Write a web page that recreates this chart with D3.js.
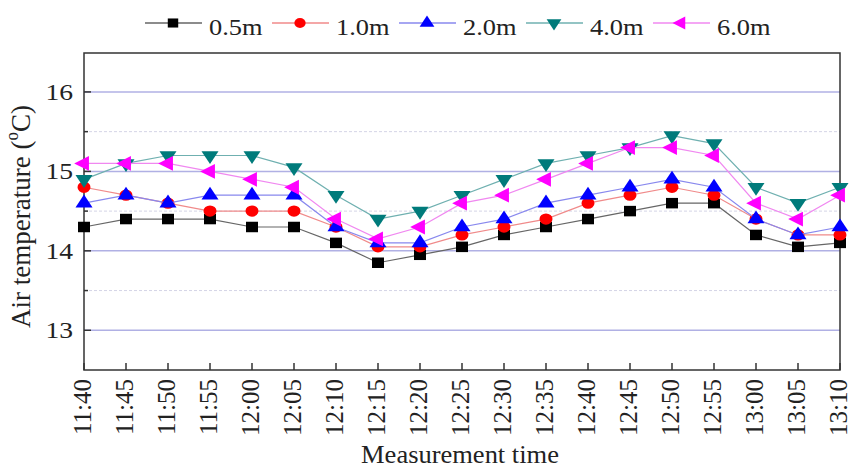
<!DOCTYPE html>
<html>
<head>
<meta charset="utf-8">
<script src="https://cdn.jsdelivr.net/npm/d3@7"></script>
<style>
	body { margin: 0; background: #fff; }
	text { font-family: "Liberation Serif", "Times New Roman", serif; fill: #222; }
</style>
</head>
<body>
<svg id="chart" width="852" height="470"></svg>
<script>
const times = ["11:40", "11:45", "11:50", "11:55", "12:00", "12:05", "12:10", "12:15", "12:20", "12:25",
	"12:30", "12:35", "12:40", "12:45", "12:50", "12:55", "13:00", "13:05", "13:10"];
const heights = ["0.5m", "1.0m", "2.0m", "4.0m", "6.0m"];
const t05 = [14.3, 14.4, 14.4, 14.4, 14.3, 14.3, 14.1, 13.85, 13.95, 14.05, 14.2, 14.3, 14.4, 14.5, 14.6, 14.6, 14.2, 14.05, 14.1];
const t10 = [14.8, 14.7, 14.6, 14.5, 14.5, 14.5, 14.3, 14.05, 14.05, 14.2, 14.3, 14.4, 14.6, 14.7, 14.8, 14.7, 14.4, 14.2, 14.2];
const t20 = [14.6, 14.7, 14.6, 14.7, 14.7, 14.7, 14.3, 14.1, 14.1, 14.3, 14.4, 14.6, 14.7, 14.8, 14.9, 14.8, 14.4, 14.2, 14.3];
const t40 = [14.9, 15.1, 15.2, 15.2, 15.2, 15.05, 14.7, 14.4, 14.5, 14.7, 14.9, 15.1, 15.2, 15.3, 15.45, 15.35, 14.8, 14.6, 14.8];
const t60 = [15.1, 15.1, 15.1, 15.0, 14.9, 14.8, 14.4, 14.15, 14.3, 14.6, 14.7, 14.9, 15.1, 15.3, 15.3, 15.2, 14.6, 14.4, 14.7];
const majorTicks = [13, 14, 15, 16];
const minorTicks = [13.5, 14.5, 15.5];

const series = [
	{ name: heights[0], values: t05, color: "#000000", line: "#666666", symbol: "square" },
	{ name: heights[1], values: t10, color: "#ff0000", line: "#f08a8a", symbol: "circle" },
	{ name: heights[2], values: t20, color: "#0000ff", line: "#8888ee", symbol: "up" },
	{ name: heights[3], values: t40, color: "#007b7b", line: "#6fb0b0", symbol: "down" },
	{ name: heights[4], values: t60, color: "#ff00ff", line: "#f088f0", symbol: "left" }
];

const SX = 1.15; // picture is stretched sideways a bit
const margin = { top: 53, right: 12, bottom: 100, left: 84 };
const width = 852 - margin.left - margin.right;
const height = 470 - margin.top - margin.bottom;

const svg = d3.select("#chart");
const g = svg.append("g").attr("transform", `translate(${margin.left},${margin.top})`);

const x = d3.scalePoint().domain(times).range([0, width]);
const y = d3.scaleLinear().domain([12.5, 16.49]).range([height, 0]);

// grid
g.selectAll(".minor")
	.data(minorTicks)
	.join("line")
	.attr("x1", 0)
	.attr("x2", width)
	.attr("y1", (d) => y(d))
	.attr("y2", (d) => y(d))
	.attr("stroke", "#d4d4e6")
	.attr("stroke-dasharray", "3,2");

g.selectAll(".major")
	.data(majorTicks)
	.join("line")
	.attr("x1", 0)
	.attr("x2", width)
	.attr("y1", (d) => y(d))
	.attr("y2", (d) => y(d))
	.attr("stroke", "#b0b0e4")
	.attr("stroke-width", 1.5);

// ticks inside the frame
g.selectAll(".ytick")
	.data(majorTicks.concat(minorTicks))
	.join("line")
	.attr("x1", 0)
	.attr("x2", (d) => (majorTicks.includes(d) ? 7 : 4))
	.attr("y1", (d) => y(d))
	.attr("y2", (d) => y(d))
	.attr("stroke", "#333")
	.attr("stroke-width", 1.5);

g.selectAll(".xtick")
	.data(times)
	.join("line")
	.attr("x1", (d) => x(d))
	.attr("x2", (d) => x(d))
	.attr("y1", height)
	.attr("y2", height - 7)
	.attr("stroke", "#333")
	.attr("stroke-width", 1.5);

g.append("rect")
	.attr("width", width)
	.attr("height", height)
	.attr("fill", "none")
	.attr("stroke", "#333")
	.attr("stroke-width", 1.5);

// tick labels
g.selectAll(".ylab")
	.data(majorTicks)
	.join("text")
	.attr("text-anchor", "end")
	.attr("font-size", 24)
	.attr("transform", (d) => `translate(-11,${y(d) + 8}) scale(${SX},1)`)
	.text((d) => d);

g.selectAll(".xlab")
	.data(times)
	.join("text")
	.attr("text-anchor", "end")
	.attr("font-size", 25)
	.attr("dy", "0.33em")
	.attr("transform", (d) => `translate(${x(d) - 1},${height + 9}) rotate(-90)`)
	.text((d) => d);

// axis titles
g.append("text")
	.attr("text-anchor", "middle")
	.attr("font-size", 25)
	.attr("transform", `translate(${width / 2 - 2},${height + 93}) scale(1.06,1)`)
	.text("Measurement time");

const yTitle = g.append("text")
	.attr("text-anchor", "middle")
	.attr("font-size", 27)
	.attr("transform", `translate(-54,${height / 2 + 5}) scale(1.05,1) rotate(-90)`);
yTitle.append("tspan").text("Air temperature (");
yTitle.append("tspan").attr("font-size", 17).attr("dy", -11).text("o");
yTitle.append("tspan").attr("dy", 11).text("C)");

const symbols = {
	square: d3.symbolSquare,
	circle: d3.symbolCircle,
	up: d3.symbolTriangle,
	down: d3.symbolTriangle,
	left: d3.symbolTriangle
};
const rotation = { square: 0, circle: 0, up: 0, down: 180, left: -90 };
const symSize = { square: 110, circle: 100, up: 95, down: 95, left: 95 };

const line = d3.line()
	.x((d, i) => x(times[i]))
	.y((d) => y(d));

series.forEach((s) => {
	const sym = d3.symbol().type(symbols[s.symbol]).size(symSize[s.symbol]);
	g.append("path")
		.datum(s.values)
		.attr("fill", "none")
		.attr("stroke", s.line)
		.attr("stroke-width", 1.2)
		.attr("d", line);
	g.selectAll(null)
		.data(s.values)
		.join("path")
		.attr("d", sym)
		.attr("fill", s.color)
		.attr("transform", (d, i) => `translate(${x(times[i])},${y(d)}) scale(${SX},1) rotate(${rotation[s.symbol]})`);
});

// legend
const legend = svg.append("g").attr("transform", "translate(145,23)");
const item = legend.selectAll("g")
	.data(series)
	.join("g")
	.attr("transform", (d, i) => `translate(${i * 127},0)`);

item.append("line")
	.attr("x1", 0)
	.attr("x2", 57)
	.attr("stroke", (d) => d.line)
	.attr("stroke-width", 1.5);

item.append("path")
	.attr("d", (d) => d3.symbol().type(symbols[d.symbol]).size(symSize[d.symbol] * 0.75)())
	.attr("fill", (d) => d.color)
	.attr("transform", (d) => `translate(28,0) scale(${SX},1) rotate(${rotation[d.symbol]})`);

item.append("text")
	.attr("font-size", 24)
	.attr("transform", `translate(64,12) scale(1.1,1)`)
	.text((d) => d.name);
</script>
</body>
</html>
